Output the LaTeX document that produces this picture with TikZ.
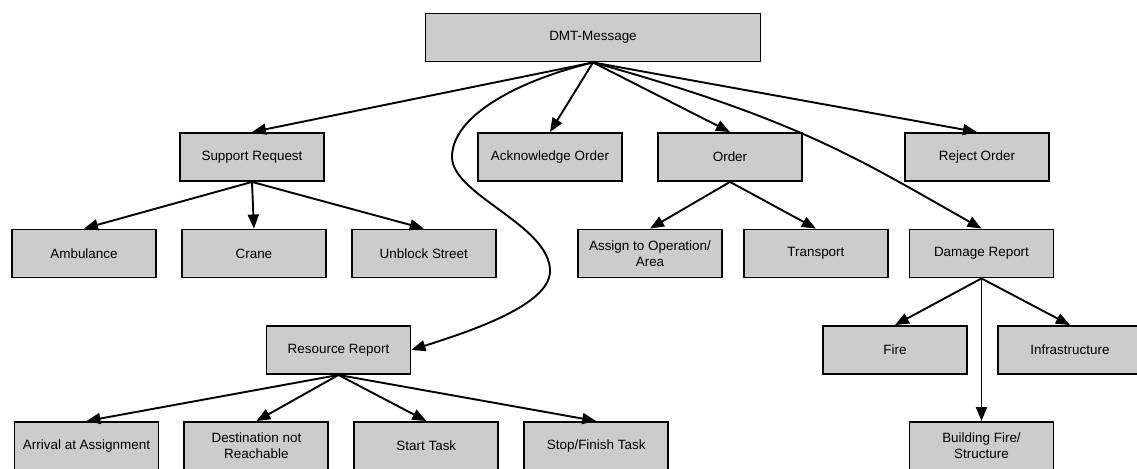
\documentclass[tikz,border=0pt]{standalone}
\usepackage{fontspec}
\setmainfont{Liberation Sans}
\usepackage{xcolor}
\usepackage{tikz}
\usetikzlibrary{arrows.meta,positioning}
\definecolor{boxgray}{HTML}{CCCCCC}

\begin{document}
\begin{tikzpicture}[
    x=1bp, y=-1bp, >={Triangle[length=14bp,width=11bp]},
    node distance=24bp,
    msg/.style={draw=black,fill=boxgray,line width=1.9bp,
                minimum height=48bp,minimum width=144bp,align=center,
                inner sep=2bp,font=\fontsize{13.5}{16}\selectfont},
    link/.style={->,line width=1.9bp}
  ]
    \useasboundingbox (0,0) rectangle (1137,469);

    \node[msg, minimum width=335bp] (dmt) at (593,37.5) {DMT-Message};

    \node[msg] (support) at (252,157) {Support Request};
    \node[msg] (ack)     at (550,157) {Acknowledge Order};
    \node[msg] (order)   at (730,157) {Order};
    \node[msg] (reject)  at (977,157) {Reject Order};

    \node[msg] (amb) at (84,253.5) {Ambulance};
    \node[msg, right=of amb]   (crane)   {Crane};
    \node[msg, right=of crane] (unblock) {Unblock Street};
    \node[msg] (assign) at (650,253.5) {Assign to Operation/\\Area};
    \node[msg, right=20bp of assign] (transport) {Transport};
    \node[msg] (damage) at (981.5,253.5) {Damage Report};

    \node[msg] (resource) at (338.5,350) {Resource Report};
    \node[msg] (fire) at (895,350) {Fire};
    \node[msg, right=29bp of fire] (infra) {Infrastructure};

    \node[msg] (arrival) at (86.5,446) {Arrival at Assignment};
    \node[msg, right=of arrival] (dest)  {Destination not\\Reachable};
    \node[msg, right=of dest]    (start) {Start Task};
    \node[msg, right=of start]   (stop)  {Stop/Finish Task};
    \node[msg] (building) at (981.5,446) {Building Fire/\\Structure};

    \draw[link] (dmt.south) -- (support.north);
    \draw[link] (dmt.south) -- (ack.north);
    \draw[link] (dmt.south) -- (order.north);
    \draw[link] (dmt.south) -- (reject.north);
    \draw[link] (dmt.south) .. controls (520,80) and (452,115) .. (452,157)
                            .. controls (452,195) and (550,225) .. (550,271)
                            .. controls (550,305) and (471,331) .. (resource.east);
    \draw[link] (dmt.south) .. controls (800,120) and (860,160) .. (damage.north);

    \draw[link] (support.south) -- (amb.north);
    \draw[link] (support.south) -- (crane.north);
    \draw[link] (support.south) -- (unblock.north);
    \draw[link] (order.south) -- (assign.north);
    \draw[link] (order.south) -- (transport.north);
    \draw[link] (damage.south) -- (fire.north);
    \draw[link] (damage.south) -- (infra.north);
    \draw[link] (damage.south) -- (building.north);

    \draw[link] (resource.south) -- (arrival.north);
    \draw[link] (resource.south) -- (dest.north);
    \draw[link] (resource.south) -- (start.north);
    \draw[link] (resource.south) -- (stop.north);
  \end{tikzpicture}
\end{document}
